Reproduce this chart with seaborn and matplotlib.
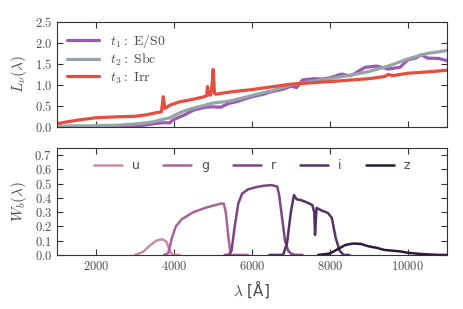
import numpy as np
import pandas as pd
import seaborn as sns
import matplotlib
matplotlib.use('Agg')
import matplotlib.pyplot as plt

# template spectra
wl_es0 = [1000, 2000, 2500, 3000, 3300, 3500, 3700, 3900, 3950, 4050, 4300, 4500, 4800, 5000, 5200, 5400, 5600,
          6000, 6300, 6500, 6800, 7000, 7150, 7300, 7600, 7800, 8000, 8300, 8500, 8600, 8900, 9200, 9500,
          9800, 10000, 10200, 10350, 10500, 10800, 11000]
L_es0 = [0.0, 0.0, 0.0, 0.02, 0.05, 0.08, 0.1, 0.1, 0.15, 0.2, 0.3, 0.4, 0.47, 0.48, 0.47, 0.56, 0.6,
         0.72, 0.78, 0.84, 0.9, 0.97, 0.94, 1.12, 1.15, 1.14, 1.17, 1.26, 1.22, 1.25, 1.42, 1.45, 1.38,
         1.42, 1.6, 1.64, 1.72, 1.64, 1.63, 1.58]

wl_sbc = [1000, 2000, 2500, 3000, 3300, 3500, 3700, 3900, 4000, 4200, 4500, 4800, 5000, 5300, 5500, 5800,
          6000, 6500, 7000, 7500, 8000, 8500, 9000, 9500, 10000, 10300, 10500, 10800, 11000]
L_sbc = [0.02, 0.03, 0.04, 0.07, 0.1, 0.13, 0.18, 0.22, 0.27, 0.36, 0.45, 0.52, 0.57, 0.6, 0.63, 0.7,
         0.75, 0.86, 1.0, 1.08, 1.15, 1.23, 1.32, 1.45, 1.62, 1.7, 1.75, 1.79, 1.82]

wl_irr = [1000, 1500, 2000, 2500, 3000, 3300, 3550, 3680, 3727, 3770, 3900, 4150, 4500, 4780, 4840, 4861,
          4890, 4940, 4980, 5007, 5040, 5080, 5200, 5500, 6000, 7000, 8000, 9000, 9400, 9500, 9600,
          10000, 10500, 11000]
L_irr = [0.08, 0.16, 0.22, 0.24, 0.255, 0.29, 0.34, 0.36, 0.72, 0.44, 0.52, 0.6, 0.66, 0.72, 0.75, 0.96,
         0.76, 0.76, 1.0, 1.37, 0.8, 0.78, 0.8, 0.84, 0.89, 1.02, 1.08, 1.15, 1.2, 1.25, 1.22,
         1.28, 1.31, 1.35]

sed_names = [r'$t_1:\ \mathrm{E/S0}$', r'$t_2:\ \mathrm{Sbc}$', r'$t_3:\ \mathrm{Irr}$']
sed_colors = ['#9b59b6', '#95a5a6', '#e74c3c']

# filter curves
bands = ['u', 'g', 'r', 'i', 'z']
wl_u = [3000, 3200, 3400, 3550, 3700, 3800, 3870, 3930, 4000, 4150]
W_u = [0.0, 0.02, 0.07, 0.1, 0.11, 0.095, 0.05, 0.01, 0.0, 0.0]
wl_g = [3750, 3850, 3950, 4050, 4200, 4500, 4800, 5000, 5200, 5280, 5330, 5400, 5460, 5550, 5900]
W_g = [0.0, 0.01, 0.12, 0.2, 0.25, 0.3, 0.33, 0.345, 0.36, 0.36, 0.3, 0.12, 0.0, 0.0, 0.0]
wl_r = [5300, 5400, 5480, 5550, 5650, 5750, 5900, 6100, 6300, 6500, 6650, 6700, 6780, 6850, 6930, 7000, 7100, 7300]
W_r = [0.0, 0.0, 0.03, 0.18, 0.36, 0.43, 0.46, 0.475, 0.485, 0.49, 0.48, 0.42, 0.25, 0.1, 0.03, 0.01, 0.0, 0.0]
wl_i = [6450, 6800, 6900, 7000, 7080, 7150, 7250, 7400, 7550, 7600, 7620, 7660, 7800, 7950, 8050, 8150, 8250, 8350, 8500]
W_i = [0.0, 0.0, 0.08, 0.3, 0.42, 0.39, 0.385, 0.37, 0.35, 0.3, 0.14, 0.33, 0.31, 0.295, 0.26, 0.12, 0.03, 0.0, 0.0]
wl_z = [7700, 8000, 8200, 8400, 8600, 8800, 9000, 9200, 9400, 9600, 9800, 10000, 10400, 10800, 11000]
W_z = [0.0, 0.01, 0.04, 0.07, 0.08, 0.077, 0.06, 0.05, 0.035, 0.03, 0.025, 0.015, 0.005, 0.0, 0.0]
band_colors = ['#cf8aa8', '#a8649a', '#7d4683', '#553266', '#2b1b3b']

sns.set_style('ticks')
plt.rcParams['font.family'] = 'serif'
plt.rcParams['font.serif'] = ['cmr10']
plt.rcParams['mathtext.fontset'] = 'cm'
plt.rcParams['axes.formatter.use_mathtext'] = True
plt.rcParams['axes.unicode_minus'] = False

fig = plt.figure(figsize=(4.63, 3.09), dpi=100)
ax1 = fig.add_axes([0.123, 0.589, 0.842, 0.340])
ax2 = fig.add_axes([0.123, 0.175, 0.842, 0.346], sharex=ax1)

for wl, L, name, c in zip([wl_es0, wl_sbc, wl_irr], [L_es0, L_sbc, L_irr], sed_names, sed_colors):
    df = pd.DataFrame({'wl': wl, 'L': L})
    sns.lineplot(data=df, x='wl', y='L', ax=ax1, color=c, lw=2.3, label=name)

for wl, W, b, c in zip([wl_u, wl_g, wl_r, wl_i, wl_z], [W_u, W_g, W_r, W_i, W_z], bands, band_colors):
    df = pd.DataFrame({'wl': wl, 'W': W})
    sns.lineplot(data=df, x='wl', y='W', ax=ax2, color=c, lw=1.8, label=b)

ax1.set_xlim(1000, 11000)
ax1.set_ylim(0, 2.5)
ax2.set_ylim(0, 0.75)
ax1.set_yticks(np.arange(0, 2.51, 0.5))
ax2.set_yticks(np.arange(0, 0.71, 0.1))
ax2.set_xticks([2000, 4000, 6000, 8000, 10000])
plt.setp(ax1.get_xticklabels(), visible=False)

for ax in (ax1, ax2):
    ax.tick_params(direction='in', top=True, right=True, labelsize=9,
                   labelcolor='0.3', color='0.2', length=4)
    for s in ax.spines.values():
        s.set_color('0.2')
    ax.set_xlabel('')

ax1.set_ylabel(r'$L_\nu(\lambda)$', fontsize=11, color='0.3')
ax2.set_ylabel(r'$W_b(\lambda)$', fontsize=11, color='0.3')
ax2.set_xlabel(r'$\lambda$ [Å]', fontsize=11, color='0.3', family='DejaVu Sans')

leg1 = ax1.legend(loc='upper left', frameon=False, fontsize=10, handlelength=2.3,
                  labelspacing=0.15, borderaxespad=0.3)
for t in leg1.get_texts():
    t.set_color('0.3')
leg2 = ax2.legend(loc='upper center', frameon=False, ncol=5, handlelength=2.25,
                  columnspacing=1.9, prop={'family': 'DejaVu Sans', 'size': 9})
for t in leg2.get_texts():
    t.set_color('0.3')

fig.savefig('out.png', dpi=100)
